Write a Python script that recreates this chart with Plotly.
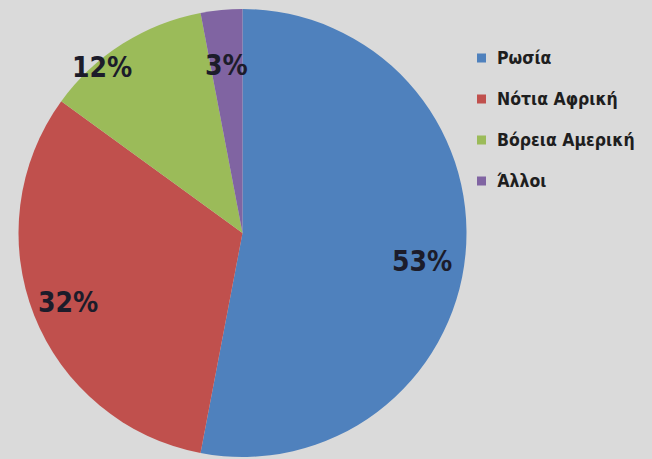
import math
import plotly.graph_objects as go

# Share of supply by origin (%)
regions = ["Ρωσία", "Νότια Αφρική", "Βόρεια Αμερική", "Άλλοι"]
shares = [53, 32, 12, 3]
colors = ["#4f81bd", "#c0504d", "#9bbb59", "#8064a2"]

W, H = 652, 459
cx, cy, R = 242.5, 233.0, 224.0   # pie centre / radius in pixels (from top-left)

fig = go.Figure(
    go.Pie(
        labels=regions,
        values=shares,
        sort=False,
        direction="clockwise",
        rotation=0,
        marker=dict(colors=colors, line=dict(width=0)),
        textinfo="none",
        hoverinfo="label+percent",
        showlegend=False,
        domain=dict(
            x=[(cx - R) / W, (cx + R) / W],
            y=[(H - cy - R) / H, (H - cy + R) / H],
        ),
    )
)

COND = "DejaVu Sans Condensed, Liberation Sans Narrow, sans-serif"

# Percentage labels placed along each slice's mid-angle
label_radius = [0.81, 0.84, 0.97, 0.75]
angle_nudge = [3.5, 0.0, -8.0, 0.0]
total = sum(shares)
start = 0.0
annotations = []
for i, v in enumerate(shares):
    sweep = 360.0 * v / total
    mid = math.radians(start + sweep / 2 + angle_nudge[i])
    start += sweep
    px = cx + label_radius[i] * R * math.sin(mid)
    py = cy - label_radius[i] * R * math.cos(mid)
    annotations.append(dict(
        x=px / W, y=1 - py / H, xref="paper", yref="paper",
        text=f"{round(100 * v / total)}%", showarrow=False,
        font=dict(family=COND, size=28, color="#1c1c2a", weight="bold"),
        xanchor="center", yanchor="middle",
    ))

# Legend: coloured squares with region names
legend_x, legend_top, legend_step, box = 477, 58, 41, 9
shapes = []
for i, (name, col) in enumerate(zip(regions, colors)):
    yc = legend_top + i * legend_step
    shapes.append(dict(
        type="rect", xref="paper", yref="paper",
        x0=legend_x / W, x1=(legend_x + box) / W,
        y0=1 - (yc + box / 2) / H, y1=1 - (yc - box / 2) / H,
        fillcolor=col, line=dict(width=0),
    ))
    annotations.append(dict(
        x=(legend_x + box + 9) / W, y=1 - yc / H, xref="paper", yref="paper",
        text=name, showarrow=False,
        font=dict(family=COND, size=17.5, color="#1e1e1e", weight="bold"),
        xanchor="left", yanchor="middle",
    ))

fig.update_layout(
    width=W, height=H,
    margin=dict(l=0, r=0, t=0, b=0),
    paper_bgcolor="#dadada",
    plot_bgcolor="#dadada",
    annotations=annotations,
    shapes=shapes,
)

fig.write_html("out.html")
